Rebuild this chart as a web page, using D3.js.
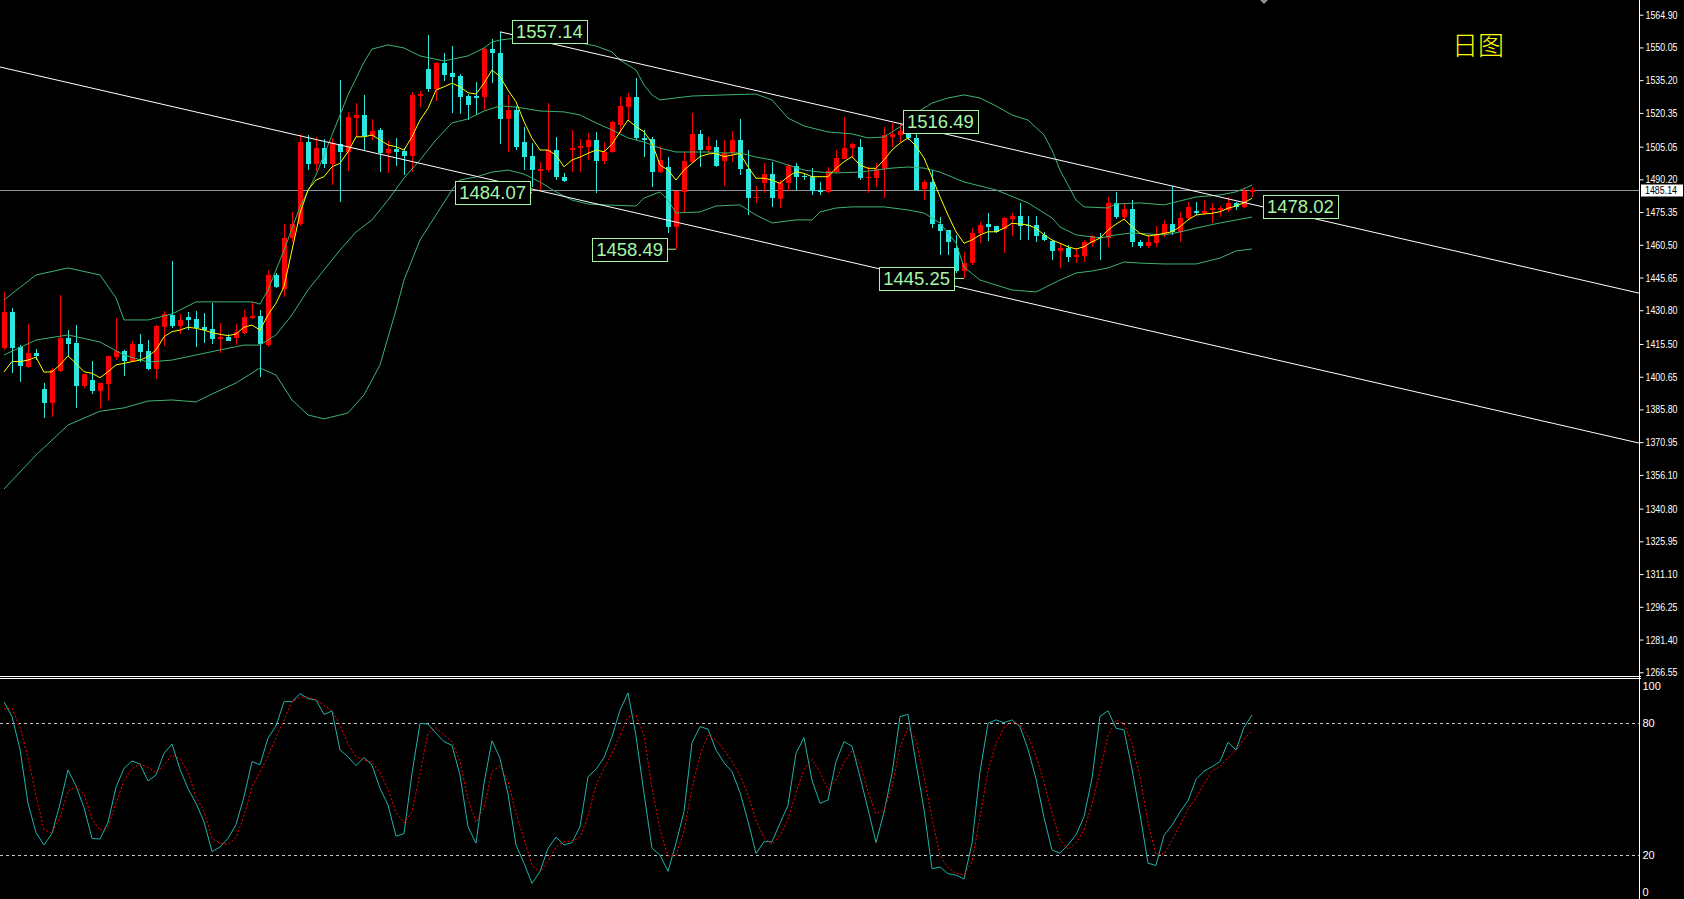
<!DOCTYPE html>
<html><head><meta charset="utf-8">
<script src="https://cdn.jsdelivr.net/npm/d3@7"></script>
<style>html,body{margin:0;padding:0;background:#000;overflow:hidden}</style>
</head><body><svg id="c" width="1684" height="899"></svg>
<script>
// ---------------- DATA ----------------
const candleOpen = [1413.81,1430.15,1414.13,1405.19,1411.41,1395.07,1388.86,1403.24,1418.21,1415.81,
1396.57,1399.16,1394.17,1397.34,1409.46,1412.31,1407.91,1415.49,1412.31,1404.15,
1423.20,1428.65,1423.79,1427.61,1426.70,1423.07,1422.16,1417.76,1418.53,1418.35,
1420.62,1427.15,1428.19,1415.04,1446.80,1440.45,1463.58,1469.94,1507.28,1497.16,
1504.42,1497.16,1506.10,1502.47,1518.17,1519.26,1509.87,1512.59,1502.29,1503.97,
1503.06,1500.93,1528.15,1540.13,1531.33,1543.12,1538.58,1537.09,1528.01,1528.01,
1527.70,1549.34,1547.66,1517.58,1521.66,1507.01,1500.79,1494.44,1494.44,1503.51,
1491.13,1503.51,1504.28,1505.01,1508.05,1498.66,1502.47,1514.86,1523.16,1527.42,
1508.82,1508.37,1493.67,1495.66,1468.44,1484.59,1498.20,1510.77,1503.51,1504.74,
1498.66,1502.02,1508.05,1494.76,1481.60,1488.68,1492.49,1481.14,1488.41,1496.25,
1491.72,1491.13,1485.36,1484.32,1493.67,1499.43,1504.28,1504.74,1490.67,1490.94,
1494.76,1509.55,1510.32,1514.40,1509.18,1485.59,1488.99,1469.80,1467.21,1458.91,
1448.75,1452.10,1465.72,1469.94,1469.03,1467.53,1472.07,1473.57,1469.49,1469.49,
1464.95,1462.22,1457.82,1458.91,1455.10,1455.56,1461.18,1464.18,1463.45,1479.33,
1472.98,1476.61,1461.91,1460.09,1461.45,1464.95,1469.94,1466.44,1472.52,1475.84,
1474.79,1476.29,1476.29,1476.29,1479.33,1477.79,1484.54];
const candleHigh = [1439.22,1431.69,1414.90,1424.56,1413.22,1397.66,1404.46,1437.72,1421.84,1423.97,
1401.88,1407.78,1397.90,1410.05,1427.29,1412.77,1416.72,1420.03,1417.31,1424.11,
1430.33,1453.15,1429.10,1430.15,1430.47,1429.42,1433.96,1424.88,1419.89,1424.56,
1430.92,1434.55,1430.92,1449.07,1447.84,1469.94,1475.38,1510.64,1510.32,1509.55,
1508.50,1508.82,1535.27,1520.75,1524.70,1528.33,1517.44,1513.36,1507.60,1508.82,
1504.28,1529.69,1530.28,1555.69,1543.58,1547.66,1550.70,1537.99,1528.92,1534.50,
1549.66,1553.74,1557.14,1528.47,1523.48,1514.08,1506.55,1498.20,1524.70,1509.55,
1492.94,1512.59,1508.37,1511.36,1511.82,1507.28,1516.67,1527.42,1529.24,1536.04,
1512.59,1509.27,1505.33,1500.47,1484.91,1502.74,1520.16,1512.59,1509.55,1508.05,
1508.05,1512.27,1517.44,1503.51,1487.18,1497.48,1498.20,1489.90,1497.02,1497.48,
1492.62,1495.48,1489.13,1495.94,1503.51,1518.35,1506.55,1508.37,1495.94,1497.48,
1514.08,1515.63,1515.17,1516.49,1511.82,1489.90,1494.44,1472.98,1467.21,1464.95,
1457.37,1467.99,1470.98,1474.79,1469.03,1473.25,1475.07,1479.33,1473.57,1473.57,
1466.44,1462.68,1461.18,1460.41,1458.91,1462.68,1464.95,1465.72,1482.33,1484.59,
1479.33,1480.83,1462.68,1464.95,1469.03,1471.75,1487.18,1475.52,1480.05,1480.05,
1480.83,1479.33,1478.10,1482.05,1480.05,1486.27,1486.59];
const candleLow = [1412.77,1402.20,1398.39,1404.74,1408.23,1381.78,1382.51,1402.92,1410.05,1386.59,
1395.39,1392.80,1385.86,1389.63,1408.23,1400.97,1407.91,1407.46,1403.69,1399.61,
1414.58,1422.61,1420.16,1421.84,1414.27,1415.81,1415.36,1411.27,1416.85,1415.04,
1419.89,1426.83,1400.38,1413.99,1440.76,1436.82,1461.77,1469.03,1494.44,1494.12,
1495.21,1487.63,1480.05,1493.98,1509.55,1503.51,1508.05,1493.67,1493.21,1496.25,
1492.17,1493.67,1522.89,1529.96,1525.88,1534.96,1520.16,1519.85,1517.12,1519.39,
1521.66,1533.78,1506.24,1502.74,1503.51,1494.44,1486.86,1485.36,1493.67,1489.90,
1489.13,1493.67,1493.67,1498.97,1483.87,1497.16,1502.02,1511.09,1517.12,1508.05,
1500.47,1486.86,1492.94,1465.99,1458.49,1475.52,1497.75,1495.94,1502.02,1495.94,
1487.18,1498.20,1492.17,1474.02,1479.33,1484.14,1477.79,1477.06,1485.05,1485.36,
1489.90,1483.10,1483.10,1483.87,1492.94,1499.29,1499.75,1489.90,1483.87,1486.86,
1481.60,1505.01,1507.28,1508.05,1485.05,1480.83,1468.12,1455.87,1455.87,1447.57,
1445.25,1451.33,1461.18,1462.36,1465.99,1456.64,1464.49,1462.68,1462.68,1461.91,
1462.36,1453.60,1450.11,1452.83,1452.38,1452.83,1459.64,1453.60,1459.64,1472.07,
1471.75,1459.64,1458.91,1458.91,1459.64,1464.18,1464.95,1461.91,1471.75,1474.02,
1474.02,1470.53,1473.25,1475.52,1476.29,1477.06,1482.19];
const candleClose = [1430.15,1413.81,1405.65,1411.27,1410.18,1388.86,1403.69,1418.21,1415.63,1396.57,
1401.74,1394.30,1397.66,1410.05,1412.31,1407.91,1415.49,1412.00,1404.15,1423.66,
1429.10,1423.66,1426.38,1426.38,1422.89,1421.98,1417.76,1418.53,1416.99,1420.93,
1427.74,1428.06,1415.36,1446.80,1441.21,1463.58,1469.94,1507.28,1497.16,1504.42,
1497.16,1506.55,1502.47,1518.35,1519.26,1509.87,1512.13,1502.29,1503.97,1502.74,
1500.93,1528.47,1528.92,1531.33,1543.12,1537.54,1536.77,1527.70,1523.93,1527.56,
1549.34,1547.39,1517.58,1521.66,1504.74,1500.47,1494.44,1494.89,1503.51,1491.13,
1489.45,1504.56,1505.33,1508.05,1498.66,1502.47,1516.35,1523.61,1527.42,1508.82,
1508.05,1493.67,1498.97,1468.44,1484.91,1498.52,1510.77,1503.51,1505.33,1496.25,
1502.02,1508.05,1494.76,1481.60,1482.33,1492.49,1481.87,1488.41,1496.25,1491.13,
1491.13,1485.05,1484.32,1493.98,1499.75,1504.28,1506.24,1490.67,1491.40,1494.76,
1510.32,1510.77,1512.13,1509.18,1485.36,1488.99,1469.80,1466.90,1461.91,1448.75,
1452.10,1465.99,1469.49,1468.71,1466.44,1472.52,1473.57,1469.17,1469.17,1464.49,
1462.68,1457.82,1458.91,1454.83,1455.87,1461.64,1464.49,1463.45,1479.33,1472.98,
1476.61,1461.91,1460.09,1461.91,1464.95,1469.94,1466.44,1472.52,1477.51,1474.79,
1475.84,1477.06,1477.06,1479.33,1477.79,1484.91,1485.14];
const maValues = [1402.8,1407.5,1407.5,1408.2,1409.5,1402.7,1402.9,1406.0,1410.1,1406.7,
1402.9,1402.2,1400.2,1402.9,1406.0,1406.7,1407.5,1408.2,1409.7,1412.8,
1418.8,1421.1,1421.8,1423.1,1422.6,1421.8,1420.6,1419.9,1419.3,1420.0,
1423.1,1424.1,1421.8,1428.7,1434.0,1441.5,1458.1,1474.8,1485.4,1489.9,
1491.4,1495.9,1497.5,1502.7,1509.5,1509.5,1510.3,1508.1,1505.8,1505.0,
1503.5,1509.5,1517.1,1522.4,1530.7,1532.2,1533.8,1532.2,1529.5,1528.9,
1533.8,1539.8,1536.8,1530.7,1525.4,1516.4,1508.8,1503.5,1503.5,1501.2,
1495.9,1499.0,1500.3,1502.0,1503.5,1502.7,1506.1,1511.8,1517.1,1514.1,
1511.8,1506.6,1496.7,1494.4,1489.9,1494.4,1497.5,1500.5,1501.7,1502.0,
1500.5,1501.2,1502.0,1495.9,1490.7,1490.7,1489.9,1488.4,1491.4,1493.7,
1492.9,1491.4,1491.4,1491.4,1495.2,1498.2,1500.5,1496.7,1495.2,1495.2,
1499.0,1503.5,1506.6,1509.0,1505.3,1499.9,1491.3,1482.3,1474.0,1466.4,
1461.2,1462.7,1465.0,1466.4,1466.4,1468.0,1470.3,1469.9,1469.5,1468.0,
1465.0,1462.7,1461.2,1459.6,1458.6,1459.6,1461.9,1463.5,1467.2,1469.9,
1472.1,1468.7,1465.7,1464.5,1465.0,1465.7,1466.4,1468.7,1471.8,1474.0,
1474.5,1474.8,1475.5,1477.1,1478.1,1479.6,1481.6];
const upperIdx = [0,4,8,12,14,15,18,21,24,28,31,32,33,35,37,39,41,43,45,46,48,50,52,55,58,60,61,62,64,66,68,70,72,74,76,77,79,80,81,82,83,86,90,94,96,98,100,103,106,108,110,112,114,116,118,120,122,124,126,128,130,131,132,133,134,135,138,139,142,145,147,149,152,154,156];
const upperVal = [1435.5,1446.8,1450.0,1446.8,1436.4,1426.4,1426.4,1429.1,1434.6,1434.6,1434.6,1433.6,1440.0,1458.1,1477.7,1492.2,1510.3,1528.5,1543.4,1549.3,1551.2,1549.8,1546.2,1543.9,1546.2,1549.8,1552.5,1553.4,1554.3,1554.8,1554.3,1553.4,1552.1,1550.7,1548.0,1544.3,1539.8,1533.0,1528.5,1526.2,1526.7,1528.0,1528.5,1528.9,1526.2,1518.0,1514.4,1511.7,1510.8,1509.0,1509.4,1514.0,1520.3,1524.8,1527.1,1528.5,1527.1,1523.5,1519.4,1517.1,1510.3,1503.5,1494.4,1487.6,1480.8,1477.7,1477.2,1479.0,1479.5,1478.6,1480.4,1482.2,1483.1,1484.5,1487.6];
const midIdx = [0,4,8,12,15,18,21,24,27,30,32,34,36,38,40,42,44,46,48,50,52,54,56,58,60,62,64,67,70,72,74,76,78,80,82,84,88,90,92,94,96,98,100,102,104,107,109,111,113,115,117,120,124,128,131,132,134,137,139,141,145,147,149,152,156];
const midVal = [1410.5,1417.3,1419.6,1416.4,1410.5,1407.3,1408.2,1410.5,1412.8,1415.0,1415.0,1419.6,1428.7,1440.0,1449.1,1458.1,1466.3,1471.8,1480.8,1490.8,1499.0,1508.1,1515.8,1517.6,1521.2,1523.5,1523.0,1521.2,1520.8,1519.4,1515.8,1512.6,1509.0,1507.1,1504.4,1502.6,1502.6,1502.2,1502.2,1500.3,1499.0,1496.7,1494.4,1493.5,1493.1,1493.5,1494.4,1495.3,1495.8,1495.3,1493.5,1489.0,1485.4,1479.5,1472.7,1468.6,1465.0,1463.6,1465.0,1465.9,1465.0,1466.3,1468.1,1470.4,1473.1];
const lowIdx = [0,4,8,12,15,18,21,24,26,29,32,34,36,38,40,43,45,47,49,50,52,54,56,57,59,61,63,65,67,69,71,73,75,79,80,82,83,84,87,89,92,94,96,99,101,102,104,106,110,113,115,117,119,120,122,126,129,132,134,136,138,140,142,145,149,152,154,156];
const lowVal = [1349.7,1365.1,1378.7,1385.0,1386.5,1389.6,1390.1,1389.2,1392.8,1397.8,1404.6,1401.4,1390.1,1383.3,1381.5,1384.2,1392.4,1406.0,1430.9,1444.5,1462.7,1474.0,1485.4,1489.9,1491.3,1493.5,1494.4,1492.6,1489.0,1484.5,1480.8,1479.0,1478.6,1478.1,1481.7,1484.5,1480.8,1474.9,1475.4,1478.1,1478.6,1474.0,1470.4,1471.8,1471.8,1475.4,1477.2,1477.7,1477.7,1476.3,1474.9,1470.4,1461.3,1450.4,1444.5,1440.0,1439.1,1444.5,1447.7,1448.6,1450.0,1452.7,1452.2,1451.8,1451.8,1454.5,1457.7,1458.6];
const stochK = [89.8,83.1,68.2,43.6,30.2,24.6,29.9,43.3,58.8,51.5,
41.6,27.6,27.3,34.9,50.9,59.5,62.9,61.4,53.8,56.5,
66.4,70.6,59.1,50.3,43.6,35.2,21.6,23.7,27.6,33.9,
46.6,62.6,61.2,73.3,78.8,89.9,89.9,93.6,91.3,90.7,
84.1,85.6,67.9,64.8,60.7,64.5,61.0,50.4,42.8,28.6,
29.8,57.2,80.0,79.7,75.5,71.7,70.0,56.5,32.9,25.4,
52.7,72.1,64.1,47.8,24.6,16.3,7.1,12.5,23.1,28.2,
24.6,25.7,32.9,55.7,59.1,64.4,74.0,86.0,93.9,74.3,
48.1,23.1,20.0,12.6,25.4,39.8,71.2,78.5,77.4,67.9,
62.1,58.0,48.6,35.4,20.7,26.1,26.1,34.5,42.7,66.4,
73.5,54.1,43.6,45.1,62.6,71.7,69.6,55.7,40.9,25.7,
39.6,57.2,83.1,84.1,61.8,40.9,13.8,14.6,11.5,10.9,
9.1,25.4,58.0,80.0,81.6,80.3,81.6,78.5,68.2,54.8,
37.1,22.3,20.9,24.7,29.3,37.5,55.0,83.2,85.8,77.8,
77.0,59.2,38.6,16.3,15.3,29.0,33.6,39.6,44.8,54.5,
58.2,60.3,62.6,71.4,67.9,78.2,83.8];
const stochD = [86.7,86.9,78.2,64.5,47.2,31.6,30.1,37.2,49.2,51.2,
47.8,36.4,31.3,33.1,43.6,54.1,59.4,61.5,60.0,57.6,
60.9,65.6,63.9,57.9,46.6,40.1,27.6,25.4,24.9,27.9,
37.8,51.2,57.9,65.1,73.5,81.6,89.9,91.9,91.9,90.7,
88.2,85.8,79.3,70.6,64.8,63.3,62.3,57.6,50.0,39.5,
34.6,39.9,57.1,75.6,78.1,74.7,71.7,62.6,45.6,34.9,
41.6,58.0,60.7,53.5,39.0,27.5,15.3,12.2,17.3,23.7,
26.1,26.4,28.1,37.8,51.9,59.5,66.2,74.4,82.9,83.7,
74.6,50.4,31.7,19.6,20.0,30.7,50.4,65.3,74.6,72.4,
67.9,62.7,56.3,47.4,36.0,27.9,24.9,28.9,36.3,48.4,
59.1,63.6,57.7,49.7,54.2,62.1,67.6,61.8,48.9,38.7,
40.6,51.2,69.1,78.2,72.4,55.7,36.8,20.0,14.3,11.7,
11.1,16.9,37.2,58.3,70.9,78.1,80.8,79.3,74.1,65.1,
53.2,39.3,27.0,22.6,25.5,31.4,43.3,58.3,74.3,81.6,
79.9,70.8,55.6,34.9,20.4,20.5,26.7,33.6,41.0,46.0,
52.5,58.3,60.3,64.4,67.7,72.7,76.8];
const priceTicks = [1564.90,1550.05,1535.20,1520.35,1505.05,1490.20,1475.35,1460.50,1445.65,1430.80,1415.50,1400.65,1385.80,1370.95,1356.10,1340.80,1325.95,1311.10,1296.25,1281.40,1266.55];
const stochTicks = [100,80,20,0];
const stochLevels = [80,20];
const currentPrice = 1485.14;
const annotPrice = [1557.14,1516.49,1484.07,1458.49,1445.25,1478.02];
const annotIndex = [62,113,66,84,120,157];
const trendUpperIdx = [62,157], trendUpperPrice = [1557.14,1478.02];
const trendLowerIdx = [0,120], trendLowerPrice = [1540.75,1440.81];
const periodLabel = "日图";

// ---------------- LAYOUT ----------------
const W = 1684, H = 899, plotRight = 1639, mainBottom = 677, subTop = 679;
const svg = d3.select('#c');
svg.append('rect').attr('width', W).attr('height', H).attr('fill', '#000');
const x = d3.scaleLinear().domain([0, 156]).range([4, 1252]);
const y = d3.scaleLinear().domain([1571.57, 1264.4]).range([0, mainBottom]);
const ys = d3.scaleLinear().domain([0, 100]).range([899, 679.5]);

const defs = svg.append('defs');
defs.append('clipPath').attr('id', 'clipMain').append('rect').attr('x', 0).attr('y', 0).attr('width', plotRight).attr('height', mainBottom - 1);
defs.append('clipPath').attr('id', 'clipSub').append('rect').attr('x', 0).attr('y', subTop).attr('width', plotRight).attr('height', H - subTop);

const gMain = svg.append('g').attr('clip-path', 'url(#clipMain)');
const gSub = svg.append('g').attr('clip-path', 'url(#clipSub)');

// current price line
gMain.append('line').attr('x1', 0).attr('x2', plotRight).attr('y1', Math.round(y(currentPrice)) + 0.5).attr('y2', Math.round(y(currentPrice)) + 0.5)
  .attr('stroke', '#8a949e').attr('stroke-width', 1);

// candles
const idx = d3.range(candleOpen.length);
const upCol = '#ff0000', dnCol = '#2ee6e0';
const cg = gMain.append('g').attr('shape-rendering', 'crispEdges');
idx.forEach(i => {
  const o = candleOpen[i], c = candleClose[i], h = candleHigh[i], l = candleLow[i];
  const col = c >= o ? upCol : dnCol;
  const cx = Math.round(x(i));
  cg.append('rect').attr('x', cx).attr('y', y(h)).attr('width', 1).attr('height', Math.max(1, y(l) - y(h))).attr('fill', col);
  const top = y(Math.max(o, c)), bot = y(Math.min(o, c));
  cg.append('rect').attr('x', cx - 2).attr('y', top).attr('width', 5).attr('height', Math.max(1.5, bot - top)).attr('fill', col);
});

// bollinger + MA
const lineGen = d3.line().x(d => x(d[0])).y(d => y(d[1]));
const bandCol = '#3cb371';
[[upperIdx, upperVal], [midIdx, midVal], [lowIdx, lowVal]].forEach(([ix, v]) => {
  gMain.append('path').attr('d', lineGen(ix.map((k, j) => [k, v[j]]))).attr('fill', 'none').attr('stroke', bandCol).attr('stroke-width', 1);
});
gMain.append('path').attr('d', lineGen(idx.map(i => [i, maValues[i]]))).attr('fill', 'none').attr('stroke', '#ffff00').attr('stroke-width', 1);

// trend lines
function drawTrend(ix, pr, fromLeft) {
  const x1 = x(ix[0]), y1 = y(pr[0]), x2 = x(ix[1]), y2 = y(pr[1]);
  const s = (y2 - y1) / (x2 - x1);
  const xa = fromLeft ? 0 : x1;
  gMain.append('line').attr('x1', xa).attr('y1', y1 + s * (xa - x1)).attr('x2', plotRight).attr('y2', y1 + s * (plotRight - x1))
    .attr('stroke', '#ffffff').attr('stroke-width', 1);
}
drawTrend(trendUpperIdx, trendUpperPrice, false);
drawTrend(trendLowerIdx, trendLowerPrice, true);

// annotations
const annotSide = ['right', 'right', 'left', 'left', 'left', 'right'];
const annotOffset = [12, -5, -2, -9, -10, 3];
const labCol = '#a6f5a6';
annotPrice.forEach((p, k) => {
  const ax = x(annotIndex[k]);
  const ay = y(p);
  const g = svg.append('g');
  const t = g.append('text').text(d3.format('.2f')(p)).attr('font-family', 'Liberation Sans, Arial, sans-serif')
    .attr('font-size', 18.5).attr('fill', labCol).attr('y', ay + 6.5);
  const tw = t.node().getComputedTextLength();
  const bw = tw + 8, bh = 23;
  const bx = annotSide[k] === 'right' ? ax + annotOffset[k] : ax + annotOffset[k] - bw;
  if (annotSide[k] === 'left') {
    g.insert('line', 'text').attr('x1', bx + bw).attr('x2', ax).attr('y1', ay).attr('y2', ay).attr('stroke', labCol);
  }
  g.insert('rect', 'text').attr('x', Math.round(bx) + 0.5).attr('y', Math.round(ay - bh / 2) + 0.5).attr('width', Math.round(bw)).attr('height', bh)
    .attr('fill', '#000').attr('stroke', labCol).attr('stroke-width', 1);
  t.attr('x', bx + 4);
});

// period label
svg.append('text').text(periodLabel).attr('x', 1452).attr('y', 55).attr('font-family', 'Noto Sans CJK SC, sans-serif')
  .attr('font-size', 26).attr('font-weight', 300).attr('fill', '#ffff00');
// small marker at top
svg.append('path').attr('d', 'M1260,0 L1264,4 L1268,0 Z').attr('fill', '#8a949e');

// stochastic
gSub.selectAll('line.lvl').data(stochLevels).enter().append('line')
  .attr('x1', 0).attr('x2', plotRight).attr('y1', d => Math.round(ys(d)) + 0.5).attr('y2', d => Math.round(ys(d)) + 0.5)
  .attr('stroke', '#c8c8c8').attr('stroke-dasharray', '3,3');
const sLine = d3.line().x(d => x(d[0])).y(d => ys(d[1]));
gSub.append('path').attr('d', sLine(idx.map(i => [i, stochK[i]]))).attr('fill', 'none').attr('stroke', '#20b2aa').attr('stroke-width', 1);
gSub.append('path').attr('d', sLine(idx.map(i => [i, stochD[i]]))).attr('fill', 'none').attr('stroke', '#ff0000').attr('stroke-width', 1).attr('stroke-dasharray', '2,2');

// separators
[676.5, 678.5].forEach(v => svg.append('line').attr('x1', 0).attr('x2', plotRight + 2).attr('y1', v).attr('y2', v).attr('stroke', '#fff'));

// axes
const axisFont = 'Liberation Sans, Arial, sans-serif';
const ax1 = svg.append('g').attr('transform', `translate(${plotRight + 0.5},0)`)
  .call(d3.axisRight(y).tickValues(priceTicks).tickFormat(d3.format('.2f')).tickSize(4).tickPadding(2));
ax1.select('.domain').remove();
ax1.selectAll('line').attr('stroke', '#fff');
ax1.selectAll('text').attr('fill', '#fff').attr('font-size', 11).attr('font-family', axisFont)
  .attr('textLength', 32).attr('lengthAdjust', 'spacingAndGlyphs');

const ax2 = svg.append('g').attr('transform', `translate(${plotRight + 0.5},0)`)
  .call(d3.axisRight(ys).tickValues(stochTicks).tickSize(0).tickPadding(3));
ax2.select('.domain').remove();
ax2.selectAll('text').attr('fill', '#fff').attr('font-size', 11).attr('font-family', axisFont)
  .attr('dy', d => d === 100 ? '0.9em' : (d === 0 ? '-0.3em' : '0.32em'));

svg.append('line').attr('x1', plotRight + 0.5).attr('x2', plotRight + 0.5).attr('y1', 0).attr('y2', H).attr('stroke', '#fff');

// current price tag
const cpY = y(currentPrice);
svg.append('rect').attr('x', 1641).attr('y', cpY - 6).attr('width', 42).attr('height', 12).attr('fill', '#fff');
svg.append('text').text(d3.format('.2f')(currentPrice)).attr('x', 1645).attr('y', cpY + 4).attr('fill', '#000')
  .attr('font-size', 11).attr('font-family', axisFont).attr('textLength', 32).attr('lengthAdjust', 'spacingAndGlyphs');
</script></body></html>
